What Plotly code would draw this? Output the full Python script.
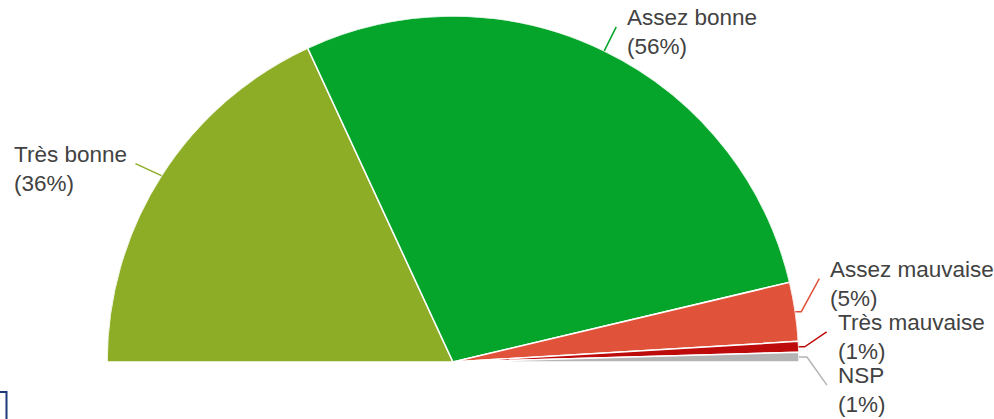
"""Half-donut (semicircle) chart of opinion shares."""
import math
import plotly.graph_objects as go

W, H = 994, 419

# data
labels = ["Très bonne", "Assez bonne", "Assez mauvaise", "Très mauvaise", "NSP"]
values = [36.2, 56.4, 5.5, 1.0, 0.9]
pct_text = [36, 56, 5, 1, 1]

# styles
COLORS = ["#8DAD26", "#05A52B", "#E0533A", "#BD0B0B", "#B4B4B4"]
TEXT_COLOR = "#424242"
FONT = "Liberation Sans, Arial, sans-serif"
DOMAIN_X = [107 / W, 799 / W]
DOMAIN_Y = [57 / H, 403 / H]
# leader line end, relative to slice mid point on the arc (pixels)
LEADER_OFFSETS = [(-26, -12), (12, -24), (24, -33), (28, -15), (28, 28)]
LEADER_KINK = [0, 0, 6, 6, 8]

total = sum(values)
widths = [v / total * 180 for v in values]
thetas = []
acc = 0
for w in widths:
    thetas.append(acc + w / 2)
    acc += w

fig = go.Figure()
fig.add_trace(go.Barpolar(
    r=[1] * len(values), theta=thetas, width=widths,
    marker=dict(color=COLORS, line=dict(color="white", width=1.5)),
    hoverinfo="skip", showlegend=False,
))

# geometry of the half circle in pixels
cx = (DOMAIN_X[0] + DOMAIN_X[1]) / 2 * W
cy = (1 - DOMAIN_Y[0]) * H
R = (DOMAIN_X[1] - DOMAIN_X[0]) / 2 * W


def px(x):
    return x / W


def py(y):
    return 1 - y / H


shapes = []
annotations = []
for lab, pct, th, col, (dx, dy), kink in zip(labels, pct_text, thetas, COLORS,
                                              LEADER_OFFSETS, LEADER_KINK):
    phi = math.radians(180 - th)
    ax = cx + R * math.cos(phi)
    ay = cy - R * math.sin(phi)
    ex, ey = ax + dx, ay + dy
    path = f"M {px(ax)} {py(ay)} L {px(ax + kink)} {py(ay)} L {px(ex)} {py(ey)}"
    shapes.append(dict(type="path", path=path, xref="paper", yref="paper",
                       line=dict(color=col, width=1.5)))
    if dx < 0:
        tx, anchor = ex - 6, "right"
    else:
        tx, anchor = ex + 9, "left"
    annotations.append(dict(
        text=f"{lab}<br>({pct}%)", x=px(tx), y=py(ey + 5),
        xref="paper", yref="paper", xanchor=anchor, yanchor="middle",
        align="left", showarrow=False,
        font=dict(size=22.5, color=TEXT_COLOR, family=FONT),
    ))

# small frame fragment at bottom-left
shapes.append(dict(type="rect", xref="paper", yref="paper",
                   x0=px(-6), x1=px(6.5), y0=py(430), y1=py(392),
                   line=dict(color="#1C3A78", width=2)))

fig.update_layout(
    width=W, height=H,
    margin=dict(l=0, r=0, t=0, b=0),
    paper_bgcolor="white", plot_bgcolor="white",
    polar=dict(
        domain=dict(x=DOMAIN_X, y=DOMAIN_Y),
        sector=[0, 180],
        bgcolor="white",
        bargap=0,
        radialaxis=dict(visible=False, range=[0, 1]),
        angularaxis=dict(visible=False, rotation=180, direction="clockwise"),
    ),
    shapes=shapes,
    annotations=annotations,
    font=dict(family=FONT),
)

fig.write_html("out.html", config={"displayModeBar": False},
               post_script="document.body.style.margin = '0';")
